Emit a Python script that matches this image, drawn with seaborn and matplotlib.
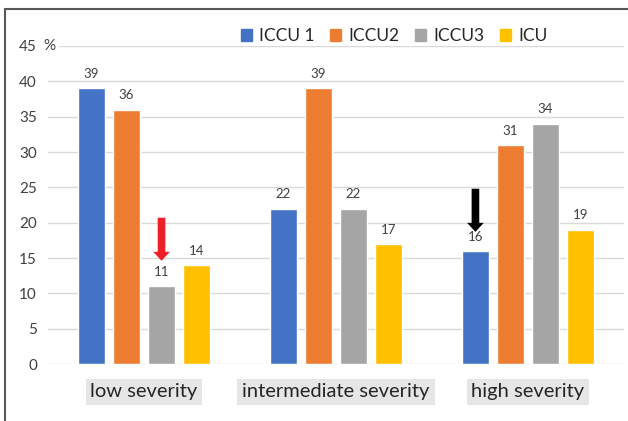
import matplotlib
matplotlib.use("Agg")
import matplotlib.pyplot as plt
import seaborn as sns
import pandas as pd
from matplotlib.lines import Line2D

# Dados do gráfico
categories = ["low severity", "intermediate severity", "high severity"]
series = ["ICCU 1", "ICCU2", "ICCU3", "ICU"]
iccu1 = [39, 22, 16]
iccu2 = [36, 39, 31]
iccu3 = [11, 22, 34]
icu = [14, 17, 19]
y_ticks = [0, 5, 10, 15, 20, 25, 30, 35, 40, 45]
colors = ["#4472C4", "#ED7D31", "#A5A5A5", "#FFC000"]

rows = []
for name, vals in zip(series, [iccu1, iccu2, iccu3, icu]):
    for cat, v in zip(categories, vals):
        rows.append({"categoria": cat, "grupo": name, "valor": v})
df = pd.DataFrame(rows)

sns.set_style("white")
plt.rcParams["font.family"] = ["Lato", "DejaVu Sans"]

fig = plt.figure(figsize=(6.28, 4.21), dpi=100)
ax = fig.add_axes([48 / 628, 57 / 421, 576 / 628, 318 / 421])

sns.barplot(
    data=df, x="categoria", y="valor", hue="grupo", order=categories,
    hue_order=series, palette=colors, width=0.73, gap=0.23,
    saturation=1, ax=ax,
)
ax.legend_.remove()

for cont in ax.containers:
    ax.bar_label(cont, padding=6, fontsize=9.5, color="#404040")

ax.set_ylim(0, 45)
ax.set_xlim(-0.5, 2.5)
ax.set_yticks(y_ticks)
ax.tick_params(axis="y", length=0, pad=8, labelsize=11, labelcolor="#404040")
ax.tick_params(axis="x", length=0, pad=14, labelsize=14.5, labelcolor="#262626")
ax.grid(axis="y", color="#D9D9D9", linewidth=1)
ax.set_axisbelow(True)
for s in ax.spines.values():
    s.set_visible(False)
ax.set_xlabel("")
ax.set_ylabel("")

for lbl in ax.get_xticklabels():
    lbl.set_bbox(dict(facecolor="#E7E6E6", edgecolor="none", pad=3.5))

ax.annotate("%", xy=(0, 45), xycoords=("axes fraction", "data"),
            xytext=(-3.5, 0), textcoords="offset points", ha="left", va="center",
            fontsize=11, color="#404040",
            bbox=dict(facecolor="white", edgecolor="none", pad=3))

# setas: vermelha sobre ICCU3 (low), preta sobre ICCU 1 (high)
def seta(container_idx, cat_idx, cor, d0, d1):
    bar = ax.containers[container_idx][cat_idx]
    xc = bar.get_x() + bar.get_width() / 2
    top = bar.get_height()
    ax.annotate("", xy=(xc, top + d0), xytext=(xc, top + d1),
                arrowprops=dict(facecolor=cor, edgecolor="none", width=5.5,
                                headwidth=12, headlength=6.5, shrink=0))

seta(2, 0, "#EE2027", 3.6, 9.7)
seta(0, 2, "black", 2.7, 8.8)

handles = [plt.Rectangle((0, 0), 1, 1, color=c) for c in colors]
fig.legend(handles, series, loc="center", bbox_to_anchor=(394 / 628, 1 - 36 / 421),
           ncol=4, frameon=False, handlelength=0.65, handleheight=0.65,
           columnspacing=0.9, handletextpad=0.4, fontsize=12.5,
           labelcolor="#262626")

# moldura da figura
fig.add_artist(Line2D([5 / 628, 5 / 628], [0, 1 - 9 / 421], color="#595959", lw=1.5))
fig.add_artist(Line2D([5 / 628, 1], [1 - 9 / 421, 1 - 9 / 421], color="#595959", lw=1.5))

fig.savefig("out.png", dpi=100)
